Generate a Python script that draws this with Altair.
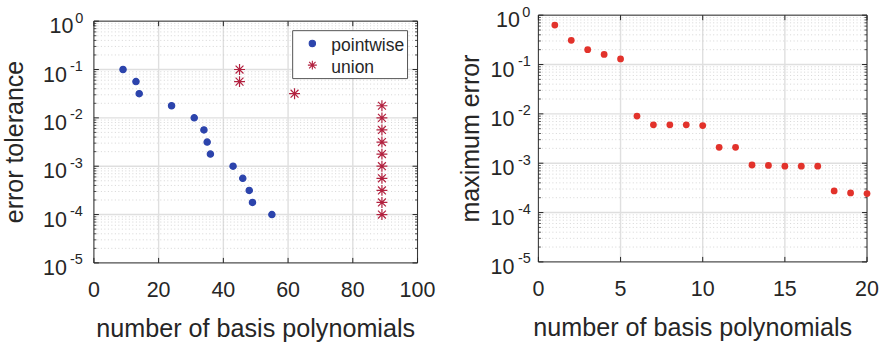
import altair as alt
import pandas as pd

# ---------------- data ----------------
SERIES = ["pointwise", "union"]
TOL = [1e-1, 5.62e-2, 3.16e-2, 1.78e-2, 1e-2, 5.62e-3, 3.16e-3, 1.78e-3,
       1e-3, 5.62e-4, 3.16e-4, 1.78e-4, 1e-4]
POINTWISE_N = [9, 13, 14, 24, 31, 34, 35, 36, 43, 46, 48, 49, 55]
UNION_N = [45, 45, 62, 89, 89, 89, 89, 89, 89, 89, 89, 89, 89]

BASIS_N = [1, 2, 3, 4, 5, 6, 7, 8, 9, 10, 11, 12, 13, 14, 15, 16, 17, 18, 19, 20]
MAX_ERR = [0.63, 0.31, 0.20, 0.16, 0.13, 0.0090, 0.0060, 0.0060, 0.0060, 0.0058,
           0.0021, 0.0021, 0.00092, 0.00090, 0.00087, 0.00087, 0.00087,
           0.000275, 0.00025, 0.000243]

LEFT_XTICKS = [0, 20, 40, 60, 80, 100]
RIGHT_XTICKS = [0, 5, 10, 15, 20]
DECADE_EXP = [0, -1, -2, -3, -4, -5]
MINOR_MANT = [2, 3, 4, 5, 6, 7, 8, 9]

X_TITLE = "number of basis polynomials"
Y_TITLE_LEFT = "error tolerance"
Y_TITLE_RIGHT = "maximum error"

# ---------------- style ----------------
FONT = "Liberation Sans"
INK = "#262626"
BLUE = "#2C44AC"
WINE = "#B2213F"
RED = "#E2322B"
GRID = "#DFDFDF"
MINOR_GRID = "#CBCBCB"
STAR = "M0,-1L0,1M-1,0L1,0M-0.72,-0.72L0.72,0.72M-0.72,0.72L0.72,-0.72"

decades = pd.DataFrame({
    "v": [10.0 ** e for e in DECADE_EXP],
    "base": ["10"] * len(DECADE_EXP),
    "exp": [str(e) for e in DECADE_EXP],
})
minors = pd.DataFrame({"v": [m * 10.0 ** e for e in DECADE_EXP[1:] for m in MINOR_MANT]})
one = pd.DataFrame({"k": [0]})

shape_sc = alt.Scale(domain=SERIES, range=["circle", STAR])
fill_sc = alt.Scale(domain=SERIES, range=[BLUE, "transparent"])
stroke_sc = alt.Scale(domain=SERIES, range=[BLUE, WINE])


def panel(W, H, y0, xdom, xticks, data_layers, xtitle_x, ytitle, ytitle_x,
          lab, anchor_x):
    ysc = alt.Scale(type="log", domain=[1e-5, 1], range=[H, y0], nice=False)
    xsc = alt.Scale(domain=xdom, nice=False, zero=False)
    xt = pd.DataFrame({"x": xticks})

    def Y(field="v"):
        return alt.Y(f"{field}:Q", scale=ysc, axis=None)

    def X(field="x"):
        return alt.X(f"{field}:Q", scale=xsc, axis=None)

    layers = []
    # grid
    layers.append(alt.Chart(xt).mark_rule(color=GRID, strokeWidth=1.4).encode(
        x=X(), y=alt.value(y0), y2=alt.value(H)))
    layers.append(alt.Chart(minors).mark_rule(color=MINOR_GRID, strokeWidth=0.8,
                                              strokeDash=[1, 2.5]).encode(
        y=Y(), x=alt.value(0), x2=alt.value(W)))
    layers.append(alt.Chart(decades).mark_rule(color=GRID, strokeWidth=1.4).encode(
        y=Y(), x=alt.value(0), x2=alt.value(W)))
    # frame
    layers.append(alt.Chart(one).mark_rect(
        filled=False, stroke="#333333", strokeWidth=1).encode(
        x=alt.value(0), x2=alt.value(W), y=alt.value(y0), y2=alt.value(H)))
    # ticks (inward)
    for ya, yb in [(H, H - 5), (y0, y0 + 5)]:
        layers.append(alt.Chart(xt).mark_rule(color=INK, strokeWidth=1).encode(
            x=X(), y=alt.value(ya), y2=alt.value(yb)))
    for xa, xb in [(0, 5), (W - 5, W)]:
        layers.append(alt.Chart(decades).mark_rule(color=INK, strokeWidth=1).encode(
            y=Y(), x=alt.value(xa), x2=alt.value(xb)))
    for xa, xb in [(0, 2.5), (W - 2.5, W)]:
        layers.append(alt.Chart(minors).mark_rule(color=INK, strokeWidth=0.8).encode(
            y=Y(), x=alt.value(xa), x2=alt.value(xb)))
    # invisible anchor to fix the outer bounds
    layers.append(alt.Chart(one).mark_rule(opacity=0).encode(
        x=alt.value(anchor_x), x2=alt.value(anchor_x + 0.5),
        y=alt.value(-15), y2=alt.value(330)))
    # x tick labels
    layers.append(alt.Chart(xt).mark_text(
        align="center", baseline="alphabetic", font=FONT, fontSize=21.5, color=INK).encode(
        x=X(), y=alt.value(H + 33.7), text=alt.Text("x:Q", format="d")))
    # y tick labels 10^k
    (bneg, eneg, bzero, ezero) = lab
    for flt, bx, ex in [("datum.exp != '0'", bneg, eneg), ("datum.exp == '0'", bzero, ezero)]:
        layers.append(alt.Chart(decades).transform_filter(flt).mark_text(
            align="right", baseline="alphabetic", dy=12, font=FONT, fontSize=21.5,
            color=INK).encode(y=Y(), x=alt.value(bx), text="base:N"))
        layers.append(alt.Chart(decades).transform_filter(flt).mark_text(
            align="right", baseline="alphabetic", dy=1.5, font=FONT, fontSize=14.5,
            color=INK).encode(y=Y(), x=alt.value(ex), text="exp:N"))
    # axis titles
    layers.append(alt.Chart(pd.DataFrame({"t": [X_TITLE]})).mark_text(
        align="center", baseline="alphabetic", font=FONT, fontSize=25.2, color=INK).encode(
        x=alt.value(xtitle_x), y=alt.value(H + 74), text="t:N"))
    layers.append(alt.Chart(pd.DataFrame({"t": [ytitle]})).mark_text(
        align="center", baseline="alphabetic", angle=270, font=FONT, fontSize=25,
        color=INK).encode(x=alt.value(ytitle_x), y=alt.value((y0 + H) / 2), text="t:N"))

    layers.extend(data_layers(X, Y))
    return alt.layer(*layers).properties(width=W, height=H)


def left_data(X, Y):
    df = pd.DataFrame({
        "n": POINTWISE_N + UNION_N,
        "tol": TOL + TOL,
        "method": [SERIES[0]] * len(POINTWISE_N) + [SERIES[1]] * len(UNION_N),
    })
    pts = alt.Chart(df).mark_point(filled=True, opacity=1, strokeWidth=1.2).encode(
        x=X("n"), y=Y("tol"),
        shape=alt.Shape("method:N", scale=shape_sc, legend=None),
        fill=alt.Fill("method:N", scale=fill_sc, legend=None),
        stroke=alt.Stroke("method:N", scale=stroke_sc, legend=None),
        size=alt.Size("method:N", scale=alt.Scale(domain=SERIES, range=[40, 120]), legend=None),
    )
    # legend box (top-right inside the plot)
    out = [pts]
    out.append(alt.Chart(one).mark_rect(fill="white", stroke="#555555", strokeWidth=1).encode(
        x=alt.value(199), x2=alt.value(314), y=alt.value(15.5), y2=alt.value(63.5)))
    leg = pd.DataFrame({"method": SERIES})
    for name, ry, sz in [(SERIES[0], 28.3, 40), (SERIES[1], 50, 80)]:
        out.append(alt.Chart(leg).transform_filter(f"datum.method == '{name}'").mark_point(
            filled=True, opacity=1, strokeWidth=1.1, size=sz).encode(
            x=alt.value(218.7), y=alt.value(ry),
            shape=alt.Shape("method:N", scale=shape_sc, legend=None),
            fill=alt.Fill("method:N", scale=fill_sc, legend=None),
            stroke=alt.Stroke("method:N", scale=stroke_sc, legend=None)))
        out.append(alt.Chart(leg).transform_filter(f"datum.method == '{name}'").mark_text(
            align="left", baseline="alphabetic", dy=7.8, font=FONT, fontSize=17.5,
            color=INK).encode(x=alt.value(237.7), y=alt.value(ry), text="method:N"))
    return out


def right_data(X, Y):
    df = pd.DataFrame({"n": BASIS_N, "err": MAX_ERR})
    return [alt.Chart(df).mark_circle(size=46, opacity=1, color=RED).encode(
        x=X("n"), y=Y("err"))]


W1, H1, Y01 = 324, 248, 6
W2, H2, Y02 = 329, 247, 0

left = panel(W1, H1, Y01, [0, 100], LEFT_XTICKS, left_data, W1 / 2,
             Y_TITLE_LEFT, -71, (-27, -11, -20.5, -10.5), -94)
right = panel(W2, H2, Y02, [0, 20], RIGHT_XTICKS, right_data, W2 / 2 - 10,
              Y_TITLE_RIGHT, -59, (-24, -7.5, -18.5, -8), W2 + 18)

chart = alt.hconcat(left, right, spacing=121, bounds="flush").properties(
    padding=0
).configure_view(stroke=None)

chart.save("out.html", embed_options={"renderer": "svg", "actions": False})
